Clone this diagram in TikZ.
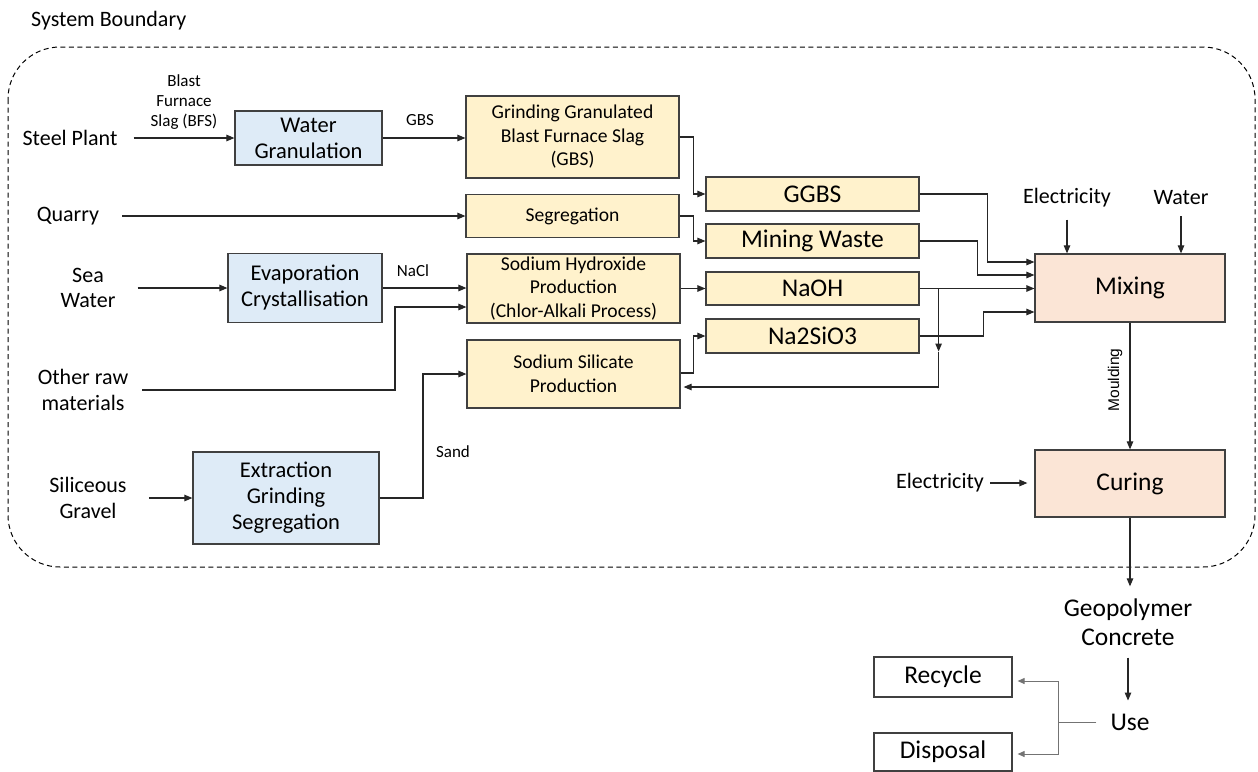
\documentclass[tikz,border=0pt]{standalone}
\usepackage{fontspec}
\setmainfont{Carlito}
\newfontfamily\arialfont{Liberation Sans}
\usetikzlibrary{arrows.meta}
\definecolor{procblue}{HTML}{DEEBF7}
\definecolor{procyellow}{HTML}{FFF2CC}
\definecolor{procpeach}{HTML}{FBE5D6}
\definecolor{edgegray}{HTML}{404040}
\tikzset{
	box/.style={draw=edgegray, line width=1.2pt, align=center, inner sep=0pt},
	bluebox/.style={box, fill=procblue, font=\fontsize{22.5}{26}\selectfont},
	yelbox/.style={box, fill=procyellow, font=\fontsize{19.6}{23.5}\selectfont},
	prodbox/.style={box, fill=procyellow, font=\fontsize{25.5}{28}\selectfont},
	peachbox/.style={box, fill=procpeach, font=\fontsize{25.5}{28}\selectfont},
	endbox/.style={box, fill=white, font=\fontsize{25.5}{28}\selectfont},
	src/.style={align=center, inner sep=0pt, font=\fontsize{22}{25.5}\selectfont},
	big/.style={align=center, inner sep=0pt, font=\fontsize{25.5}{29}\selectfont},
	lbl/.style={align=center, inner sep=0pt, font=\fontsize{17}{20}\selectfont},
	wire/.style={draw=black!85, line width=1.1pt},
	flow/.style={wire, -{Triangle[length=8pt,width=6.5pt]}},
	back/.style={draw=black!55, line width=1pt, -{Triangle[length=7pt,width=6pt]}},
}

\begin{document}
\begin{tikzpicture}[x=1pt, y=-1pt]
			%%%%% START %%%%%
			\useasboundingbox (0,0) rectangle (1258,771);
			
			\node[src, anchor=west] (sysb) at (31,21) {System Boundary};
			\draw[line width=1pt, dash pattern=on 5pt off 3.5pt, rounded corners=52pt] (8,47) rectangle (1255,567);
			
			% sources
			\node[src] (steel) at (70,138) {Steel Plant};
			\node[src] (quarry) at (68,216) {Quarry};
			\node[src] (sea) at (88,288) {Sea\\Water};
			\node[src] (other) at (83,390) {Other raw\\materials};
			\node[src] (gravel) at (88,498) {Siliceous\\Gravel};
			
			% first stage
			\node[bluebox, minimum width=147pt, minimum height=54pt] (wg) at (308.5,138) {Water\\Granulation};
			\node[bluebox, minimum width=154pt, minimum height=69pt] (evap) at (305,288) {Evaporation\\Crystallisation};
			\node[bluebox, minimum width=186pt, minimum height=92pt] (ext) at (286,498) {Extraction\\Grinding\\Segregation};
			
			% second stage
			\node[yelbox, minimum width=213pt, minimum height=82pt] (grind) at (572.5,137) {Grinding Granulated\\Blast Furnace Slag\\(GBS)};
			\node[yelbox, minimum width=213pt, minimum height=43pt] (seg) at (572.5,216) {Segregation};
			\node[yelbox, minimum width=213pt, minimum height=69pt] (soh) at (573.5,288.5) {Sodium Hydroxide\\Production\\(Chlor-Alkali Process)};
			\node[yelbox, minimum width=213pt, minimum height=68pt] (sos) at (573.5,374) {Sodium Silicate\\Production};
			
			% products
			\node[prodbox, minimum width=213pt, minimum height=34pt] (ggbs) at (812.5,194) {GGBS};
			\node[prodbox, minimum width=213pt, minimum height=34pt] (mw) at (812.5,241) {Mining Waste};
			\node[prodbox, minimum width=213pt, minimum height=33pt] (naoh) at (812.5,288.5) {NaOH};
			\node[prodbox, minimum width=213pt, minimum height=34pt] (nasi) at (812.5,336) {Na2SiO3};
			
			% mixing and curing
			\node[peachbox, minimum width=190pt, minimum height=68pt] (mix) at (1130,288) {Mixing};
			\node[peachbox, minimum width=190pt, minimum height=67pt] (cur) at (1130,483.5) {Curing};
			\node[src] (elec1) at (1067,198) {Electricity};
			\node[src] (water) at (1181,198) {Water};
			\node[src] (elec2) at (940,483) {Electricity};
			\node[inner sep=0pt, rotate=90, font=\arialfont\fontsize{15.5}{18}\selectfont] (mould) at (1115,380) {Moulding};
			
			% end of life
			\node[big] (geo) at (1128,622) {Geopolymer\\Concrete};
			\node[big] (use) at (1130,722) {Use};
			\node[endbox, minimum width=138pt, minimum height=40pt] (rec) at (943,677) {Recycle};
			\node[endbox, minimum width=138pt, minimum height=38pt] (dis) at (943,752) {Disposal};
			
			% stream labels
			\node[lbl] (bfs) at (184,102) {Blast\\Furnace\\Slag (BFS)};
			\node[lbl] (gbs) at (420,120) {GBS};
			\node[lbl] (nacl) at (413,271) {NaCl};
			\node[lbl] (sand) at (453,452) {Sand};
			
			% connectors
			\draw[flow] ([xshift=16pt]steel.east) -- (wg.west);
			\draw[flow] (wg.east) -- (wg.east -| grind.west);
			\draw[flow] ([xshift=23pt]quarry.east) -- (quarry.east -| seg.west);
			\draw[flow] ([xshift=22pt]sea.east) -- (sea.east -| evap.west);
			\draw[flow] (evap.east) -- (evap.east -| soh.west);
			\coordinate (ojoin) at (395,307);
			\draw[flow] ([xshift=14pt]other.east) -| (ojoin) -- (ojoin -| soh.west);
			\draw[flow] ([xshift=22pt]gravel.east) -- (gravel.east -| ext.west);
			\coordinate (sjoin) at (423,374);
			\draw[flow] (ext.east) -| (sjoin) -- (sjoin -| sos.west);
			
			\draw[flow] (grind.east) -- ++(14,0) |- (ggbs.west);
			\draw[flow] (seg.east) -- ++(14,0) |- (mw.west);
			\draw[flow] (soh.east) -- (soh.east -| naoh.west);
			\draw[flow] ([yshift=1pt]sos.east) -- ++(13,0) |- (nasi.west);
			
			\draw[flow] (ggbs.east) -- ++(68,0) |- ([yshift=26pt]mix.west);
			\draw[flow] (mw.east) -- ++(58,0) |- ([yshift=13pt]mix.west);
			\draw[flow] (naoh.east) -- (naoh.east -| mix.west);
			\draw[flow] (nasi.east) -- ++(64,0) |- ([yshift=-24pt]mix.west);
			\coordinate (tap) at ([xshift=19pt]naoh.east);
			\draw[flow] (tap) -- ([yshift=-63pt]tap);
			\draw[flow, shorten >=3pt] ([yshift=-63pt]tap) |- ([yshift=-13pt]sos.east);
			
			\draw[flow, shorten <=12pt] (elec1.south) -- (elec1.south |- mix.north);
			\draw[flow, shorten <=11pt] (water.south) -- (water.south |- mix.north);
			\draw[flow] (mix) -- (cur);
			\draw[flow, shorten <=6pt, shorten >=7pt] (elec2.east) -- (elec2.east -| cur.west);
			\draw[flow, shorten >=12pt] (cur.south) -- (cur.south |- geo.north);
			\draw[flow, shorten <=12pt, shorten >=13pt] (geo.south) -- (geo.south |- use.north);
			
			\coordinate (fork) at (1058,722);
			\draw[draw=black!55, line width=1pt, shorten <=14pt] (use.west) -- (fork);
			\draw[back, shorten >=5pt] (fork) |- ([yshift=-4pt]rec.east);
			\draw[back, shorten >=5pt] (fork) |- ([yshift=-2pt]dis.east);
			
			%%%%% END %%%%%
		\end{tikzpicture}
\end{document}
